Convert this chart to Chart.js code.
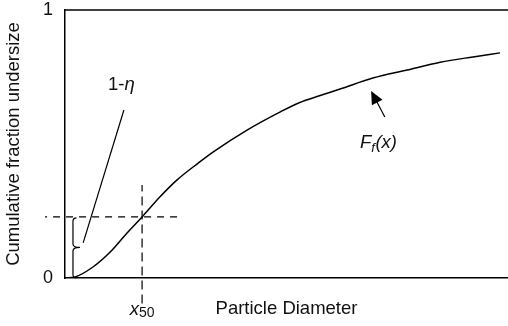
<!DOCTYPE html>
<html>
<head>
<meta charset="utf-8">
<script src="https://cdn.jsdelivr.net/npm/chart.js@4.4.1/dist/chart.umd.min.js"></script>
<style>
html, body { margin: 0; padding: 0; background: #fff; }
</style>
</head>
<body>
<canvas id="grafico" width="508" height="326"></canvas>
<script>
// curva F_f(x) (diametro en unidades arbitrarias 0-100)
const diametro = [0, 2.3, 6.3, 10.2, 14.0, 17.4, 21.4, 25.3, 30.0, 33.4, 41.1, 48.5, 53.0, 56.9, 62.1, 69.5, 77.2, 84.7, 92.1, 98.2]
const fraccion = [0, 0.004, 0.041, 0.097, 0.168, 0.228, 0.302, 0.366, 0.428, 0.470, 0.552, 0.619, 0.655, 0.677, 0.705, 0.746, 0.776, 0.805, 0.825, 0.840]
const yTickLabels = ['0', '1']
const x50 = 17.4
const corte = 0.228

const fuente = '"Liberation Sans", Arial, sans-serif'
const negro = '#000'

const anotaciones = {
    id: 'anotaciones',
    afterDatasetsDraw(chart) {
        const ctx = chart.ctx
        const sx = chart.scales.x
        const sy = chart.scales.y
        const px = (v) => sx.getPixelForValue(v)
        const py = (v) => sy.getPixelForValue(v)
        const area = chart.chartArea
        ctx.save()

        // linea superior del marco
        ctx.strokeStyle = negro
        ctx.lineWidth = 1.5
        ctx.beginPath()
        ctx.moveTo(area.left, area.top)
        ctx.lineTo(area.right, area.top)
        ctx.stroke()

        // llave de 1-eta
        const bx = px(1.8)
        const yT = py(corte) + 1
        const yB = py(0)
        const yM = py(corte / 2)
        const w = 3.5
        ctx.lineWidth = 1.2
        ctx.beginPath()
        ctx.moveTo(bx + w, yT)
        ctx.quadraticCurveTo(bx, yT, bx, yT + w)
        ctx.lineTo(bx, yM - w)
        ctx.quadraticCurveTo(bx, yM, bx + 7, yM)
        ctx.quadraticCurveTo(bx, yM, bx, yM + w)
        ctx.lineTo(bx, yB - w)
        ctx.quadraticCurveTo(bx, yB, bx + w, yB)
        ctx.stroke()

        // linea guia
        ctx.beginPath()
        ctx.moveTo(px(13.3), py(0.627))
        ctx.lineTo(px(4.1), py(0.131))
        ctx.stroke()

        // flecha hacia la curva
        const ax = px(69.1), ay = py(0.698)
        const tx = px(72.2), ty = py(0.601)
        const ang = Math.atan2(ay - ty, ax - tx)
        ctx.beginPath()
        ctx.moveTo(tx, ty)
        ctx.lineTo(ax - 8 * Math.cos(ang), ay - 8 * Math.sin(ang))
        ctx.stroke()
        ctx.fillStyle = negro
        ctx.beginPath()
        ctx.moveTo(ax, ay)
        ctx.lineTo(ax - 13 * Math.cos(ang) + 6 * Math.sin(ang), ay - 13 * Math.sin(ang) - 6 * Math.cos(ang))
        ctx.lineTo(ax - 13 * Math.cos(ang) - 6 * Math.sin(ang), ay - 13 * Math.sin(ang) + 6 * Math.cos(ang))
        ctx.closePath()
        ctx.fill()

        // textos
        ctx.fillStyle = '#111'
        ctx.textBaseline = 'middle'
        ctx.textAlign = 'left'
        let x = px(9.7)
        let y = py(0.72)
        ctx.font = '18.5px ' + fuente
        ctx.fillText('1-', x, y)
        x += ctx.measureText('1-').width
        ctx.font = 'italic 18.5px ' + fuente
        ctx.fillText('\u03B7', x, y)

        x = px(66.6)
        y = py(0.504)
        ctx.font = 'italic 18.5px ' + fuente
        ctx.fillText('F', x, y)
        x += ctx.measureText('F').width
        ctx.font = 'italic 13px ' + fuente
        ctx.fillText('f', x, y + 5)
        x += ctx.measureText('f').width + 0.5
        ctx.font = 'italic 18.5px ' + fuente
        ctx.fillText('(x)', x, y)

        ctx.font = 'italic 18.5px ' + fuente
        const wx = ctx.measureText('x').width
        ctx.font = '14px ' + fuente
        const w50 = ctx.measureText('50').width
        x = px(x50) - (wx + w50) / 2
        y = py(-0.12)
        ctx.font = 'italic 18.5px ' + fuente
        ctx.fillText('x', x, y)
        ctx.font = '14px ' + fuente
        ctx.fillText('50', x + wx, y + 3)

        ctx.restore()
    }
}

const config = {
    type: 'line',
    data: {
        datasets: [
            {
                data: diametro.map((d, i) => ({ x: d, y: fraccion[i] })),
                borderColor: negro,
                borderWidth: 1.5,
                pointRadius: 0,
                cubicInterpolationMode: 'monotone'
            },
            {
                data: [{ x: x50, y: -0.095 }, { x: x50, y: 0.347 }],
                borderColor: negro,
                borderWidth: 1.2,
                borderDash: [9, 5],
                pointRadius: 0,
                clip: false
            },
            {
                data: [{ x: -4.5, y: corte }, { x: 25.9, y: corte }],
                borderColor: negro,
                borderWidth: 1.2,
                borderDash: [7, 6],
                borderDashOffset: 5,
                pointRadius: 0,
                clip: false
            }
        ]
    },
    options: {
        responsive: false,
        animation: false,
        devicePixelRatio: 1,
        layout: { padding: { top: 10, right: 0, left: 0, bottom: 0 } },
        plugins: { legend: { display: false }, tooltip: { enabled: false } },
        scales: {
            x: {
                type: 'linear',
                min: 0,
                max: 100,
                ticks: { display: false },
                grid: { display: false, drawTicks: false },
                border: { color: negro, width: 1.5 },
                title: {
                    display: true,
                    text: 'Particle Diameter',
                    color: '#111',
                    font: { family: fuente, size: 18.5 },
                    padding: { top: 0, bottom: 6 }
                },
                afterFit: (s) => { s.height = 48; s.paddingLeft = 0; s.paddingRight = 0 }
            },
            y: {
                min: 0,
                max: 1,
                ticks: {
                    stepSize: 1,
                    padding: 12,
                    color: '#111',
                    font: { family: fuente, size: 18 },
                    callback: (v) => yTickLabels[v]
                },
                grid: { display: false, drawTicks: false },
                border: { color: negro, width: 1.5 },
                title: {
                    display: true,
                    text: 'Cumulative fraction undersize',
                    color: '#111',
                    font: { family: fuente, size: 18.5 },
                    padding: { top: 3, bottom: 0 }
                },
                afterFit: (s) => { s.width = 65; s.paddingTop = 0; s.paddingBottom = 0 }
            }
        }
    },
    plugins: [anotaciones]
}

const chart = new Chart(document.getElementById('grafico'), config)
</script>
</body>
</html>
